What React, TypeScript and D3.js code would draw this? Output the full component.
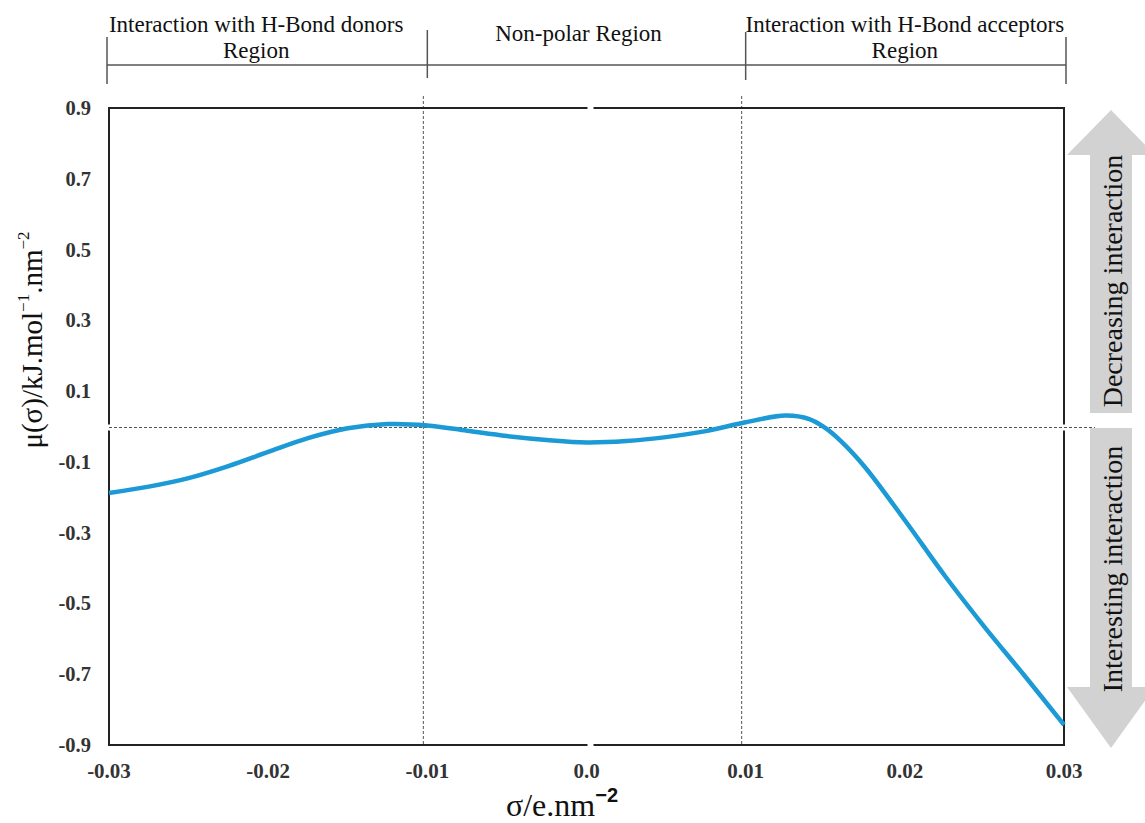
import React from "react";
import * as d3 from "d3";

const sigma = [-0.03, -0.0275, -0.025, -0.0225, -0.02, -0.0175, -0.015, -0.0125, -0.01, -0.0075, -0.005, -0.0025, 0, 0.0025, 0.005, 0.0075, 0.01, 0.0125, 0.014, 0.015, 0.016, 0.0175, 0.02, 0.0225, 0.025, 0.0275, 0.03];
const mu = [-0.188, -0.170, -0.146, -0.112, -0.072, -0.033, -0.005, 0.007, 0.003, -0.012, -0.027, -0.038, -0.045, -0.041, -0.03, -0.013, 0.012, 0.031, 0.021, -0.004, -0.042, -0.115, -0.265, -0.421, -0.566, -0.703, -0.843];
const xTicks = [-0.03, -0.02, -0.01, 0.0, 0.01, 0.02, 0.03];
const xTickLabels = ["-0.03", "-0.02", "-0.01", "0.0", "0.01", "0.02", "0.03"];
const yTicks = [0.9, 0.7, 0.5, 0.3, 0.1, -0.1, -0.3, -0.5, -0.7, -0.9];
const regionBounds = [-0.03, -0.01, 0.01, 0.03];
const regionLabels = [["Interaction with H-Bond donors", "Region"], ["Non-polar Region"], ["Interaction with H-Bond acceptors", "Region"]];
const arrowLabels = ["Decreasing interaction", "Interesting interaction"];

const W = 1145, H = 823;
const serif = "'Liberation Serif', 'Times New Roman', serif";
const labelShift = [-12, -8, 0];

export default function App() {
  const x = d3.scaleLinear().domain([-0.03, 0.03]).range([109, 1064]);
  const y = d3.scaleLinear().domain([-0.9, 0.9]).range([745, 108]);
  const pts = sigma.map((s, i) => [s, mu[i]] as [number, number]);
  const line = d3.line<[number, number]>().x(d => x(d[0])).y(d => y(d[1])).curve(d3.curveCatmullRom.alpha(0.5));
  const x0 = x(-0.03), x1 = x(0.03), yT = y(0.9), yB = y(-0.9), yz = y(0), xc = x(0);
  const frame = `M${xc + 1},${yT}H${x0}V${yz - 2}M${x0},${yz + 4}V${yB}H${xc + 1}M${xc + 7},${yB}H${x1}V${yz + 4}M${x1},${yz - 2}V${yT}H${xc + 7}`;
  const ax = 1111;
  const upArrow = `M${ax},110L${ax + 44},155H${ax + 21}V413H${ax - 21}V155H${ax - 44}Z`;
  const downArrow = `M${ax - 21},428H${ax + 21}V687H${ax + 44}L${ax},748L${ax - 44},687H${ax - 21}Z`;
  const bracketY = 65;
  const tickTops = [37, 30, 32, 37];
  const tickBots = [84, 78, 80, 84];
  return (
    <svg width={W} height={H} style={{ position: "absolute", left: 0, top: 0, background: "#fff" }} fontFamily={serif}>
      {/* region bracket */}
      <line x1={x(regionBounds[0]) - 2} x2={x(regionBounds[3]) + 2} y1={bracketY} y2={bracketY} stroke="#555" strokeWidth={1.5} />
      {regionBounds.map((b, i) => (
        <line key={i} x1={x(b) + (i === 0 ? -2 : i === 3 ? 2 : 0)} x2={x(b) + (i === 0 ? -2 : i === 3 ? 2 : 0)} y1={tickTops[i]} y2={tickBots[i]} stroke="#555" strokeWidth={1.5} />
      ))}
      {regionLabels.map((lab, i) => {
        const cx = (x(regionBounds[i]) + x(regionBounds[i + 1])) / 2 + labelShift[i];
        if (lab.length === 1) {
          return <text key={i} x={cx} y={41} textAnchor="middle" fontSize={23} fill="#111">{lab[0]}</text>;
        }
        return (
          <g key={i}>
            <text x={cx} y={32} textAnchor="middle" fontSize={23} fill="#111">{lab[0]}</text>
            <text x={cx} y={58} textAnchor="middle" fontSize={23} fill="#111">{lab[1]}</text>
          </g>
        );
      })}
      {/* arrows */}
      <path d={upArrow} fill="#d2d2d2" />
      <path d={downArrow} fill="#d2d2d2" />
      <text transform={`translate(${ax + 1},281) rotate(-90)`} textAnchor="middle" dominantBaseline="central" fontSize={28} fill="#111">{arrowLabels[0]}</text>
      <text transform={`translate(${ax + 1},569) rotate(-90)`} textAnchor="middle" dominantBaseline="central" fontSize={28} fill="#111">{arrowLabels[1]}</text>
      {/* reference lines */}
      <line x1={x0} x2={1095} y1={yz + 1} y2={yz + 1} stroke="#555" strokeWidth={1} strokeDasharray="3,2" />
      {[regionBounds[1], regionBounds[2]].map((b, i) => (
        <line key={i} x1={x(b) - 4} x2={x(b) - 4} y1={96} y2={yB} stroke="#555" strokeWidth={1} strokeDasharray="3,2" />
      ))}
      {/* frame */}
      <path d={frame} fill="none" stroke="#222" strokeWidth={2} />
      {/* curve */}
      <path d={line(pts) || ""} fill="none" stroke="#1b9ad6" strokeWidth={4.5} strokeLinecap="butt" />
      {/* y ticks */}
      {yTicks.map((t, i) => (
        <text key={i} x={91} y={y(t)} textAnchor="end" dominantBaseline="central" fontSize={20.5} fontWeight="bold" fill="#333">{t.toFixed(1)}</text>
      ))}
      {/* x ticks */}
      {xTicks.map((t, i) => (
        <text key={i} x={x(t)} y={778} textAnchor="middle" fontSize={21} fontWeight="bold" fill="#333">{xTickLabels[i]}</text>
      ))}
      {/* axis titles */}
      <text x={562} y={816} textAnchor="middle" fontSize={32} fill="#111">
        σ/e.nm<tspan fontSize={20} dy={-14} fontFamily="'Liberation Sans', Arial, sans-serif" fontWeight="bold">−2</tspan>
      </text>
      <text transform="translate(42,340) rotate(-90)" textAnchor="middle" fontSize={29} fill="#111">
        μ(σ)/kJ.mol<tspan fontSize={17} dy={-13}>−1</tspan><tspan dy={13}>.nm</tspan><tspan fontSize={17} dy={-13}>−2</tspan>
      </text>
    </svg>
  );
}
